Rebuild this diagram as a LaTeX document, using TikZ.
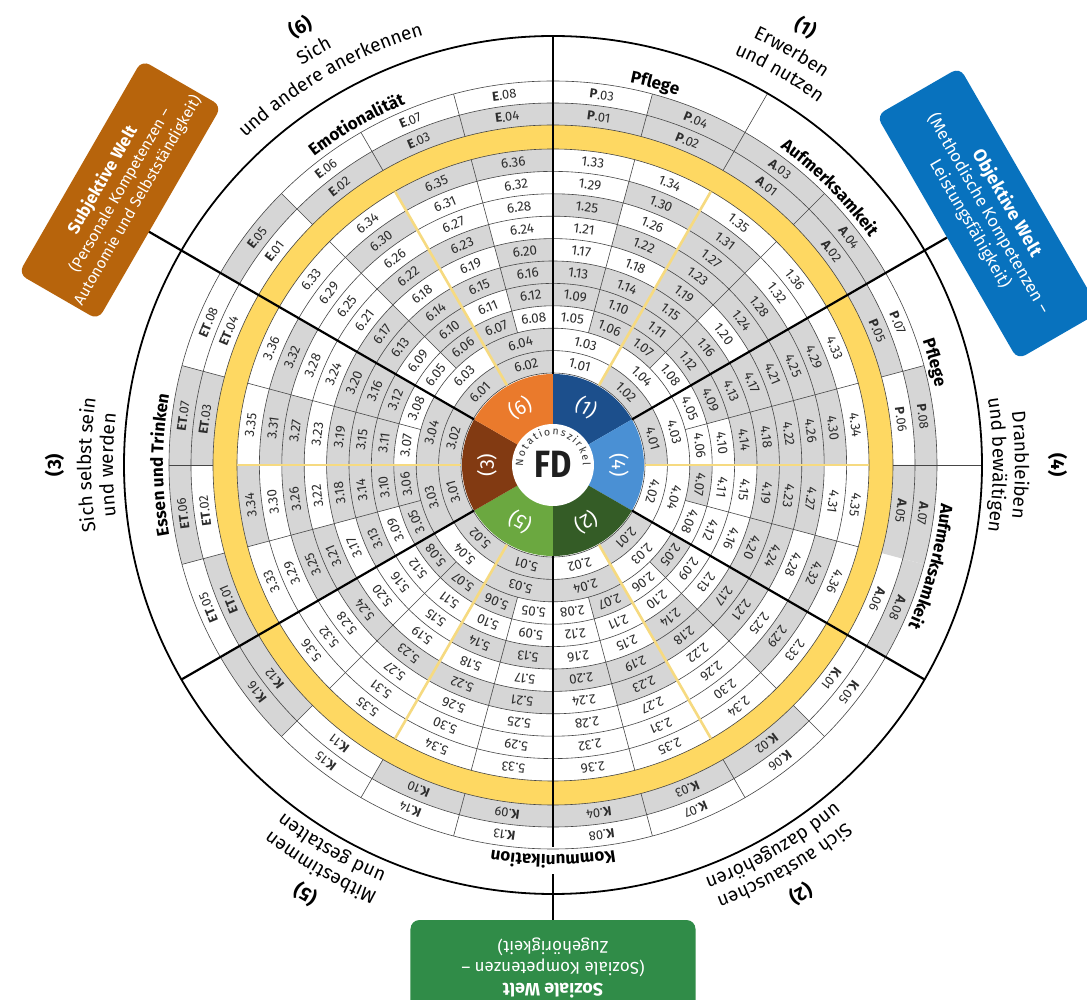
\documentclass[tikz,border=0pt]{standalone}
\usepackage{fontspec}
\setmainfont{Fira Sans}
\usetikzlibrary{decorations.text}
\definecolor{cellgray}{RGB}{214,214,214}
\definecolor{ringyellow}{RGB}{254,216,98}
\definecolor{lineyellow}{RGB}{246,218,128}
\definecolor{gridline}{RGB}{70,70,70}
\definecolor{numtext}{RGB}{45,45,45}
\definecolor{cOne}{RGB}{28,79,140}
\definecolor{cFour}{RGB}{74,144,212}
\definecolor{cTwo}{RGB}{52,92,38}
\definecolor{cFive}{RGB}{107,168,64}
\definecolor{cThree}{RGB}{130,58,18}
\definecolor{cSix}{RGB}{234,122,44}
\definecolor{subjcol}{RGB}{183,100,12}
\definecolor{objcol}{RGB}{8,114,190}
\definecolor{sozcol}{RGB}{48,140,72}
\def\rz{92}
\def\rw{22.4}
\newcommand\catfont{\bfseries\fontsize{17}{17}\selectfont}
\newcommand\outfont{\fontsize{19}{19}\selectfont}
\newcommand\outbold{\bfseries\fontsize{19}{19}\selectfont}
\newcommand\drawsector[3]{%
  \foreach \g [count=\i] in {#3}{%
    \pgfmathtruncatemacro\cR{\i<5 ? (\i<3 ? 1 : 2) : 3+floor((\i-5)/4)}%
    \pgfmathtruncatemacro\cC{\i<5 ? mod(\i-1,2) : mod(\i-5,4)}%
    \pgfmathsetmacro\cW{\i<5 ? 30 : 15}%
    \pgfmathsetmacro\aA{#2-\cC*\cW}%
    \pgfmathsetmacro\aB{\aA-\cW}%
    \pgfmathsetmacro\rA{\rz+\rw*(\cR-1)}%
    \pgfmathsetmacro\rB{\rA+\rw}%
    \pgfmathsetmacro\aM{(\aA+\aB)/2}%
    \pgfmathsetmacro\rM{(\rA+\rB)/2}%
    \ifnum\g=1
      \fill[cellgray] (\aA:\rA pt) arc[start angle=\aA,end angle=\aB,radius=\rA pt] -- (\aB:\rB pt) arc[start angle=\aB,end angle=\aA,radius=\rB pt] -- cycle;
    \fi
    \node[num,rotate=\aM-90] (n#1-\i) at (\aM:\rM pt) {#1.\ifnum\i<10 0\fi\i};
  }}
\newcommand\arctext[5]{%
  \path[decorate,decoration={text along path,text align=center,text={|#4|#5}}]
    (#1+#2:#3pt) arc[start angle=#1+#2,end angle=#1-#2,radius=#3pt];}
\begin{document}
\begin{tikzpicture}[x=1pt,y=1pt,
  num/.style={font=\fontsize{13.5}{13.5}\selectfont, text=numtext, inner sep=0pt},
  olab/.style={font=\fontsize{13}{13}\selectfont, text=numtext, inner sep=0pt},
  gridl/.style={draw=gridline, line width=0.6pt},
  yline/.style={draw=lineyellow, line width=2.6pt},
  sectorline/.style={draw=black, line width=2.2pt},
  wbox/.style={rounded corners=9pt, text=white, align=center, minimum height=96pt, inner sep=4pt},
  ringlab/.style={text=white, font=\fontsize{20}{20}\selectfont}
]
\useasboundingbox (-553,-535) rectangle (534,465);
\fill[white] (-553,-535) rectangle (534,465);

% inner cells
\drawsector{1}{90}{0,1,0,0,0,1,1,0,1,1,1,1,1,1,1,1,0,0,1,0,0,1,1,1,1,0,1,1,0,1,1,0,0,0,0,0}
\drawsector{4}{30}{1,0,0,0,0,0,1,0,1,0,0,0,1,1,0,0,1,1,1,1,1,1,1,1,1,1,1,0,1,1,0,1,0,0,0,0}
\drawsector{2}{-30}{1,0,0,1,1,0,1,0,0,0,0,0,0,1,0,0,1,1,1,1,1,0,1,0,0,0,0,0,1,0,0,0,0,0,0,0}
\drawsector{5}{-90}{1,1,1,0,0,1,1,1,0,0,0,0,1,1,0,0,0,0,0,0,1,1,1,1,0,0,0,0,0,0,0,0,0,0,0,0}
\drawsector{3}{210}{1,1,1,1,1,1,0,0,0,1,1,1,1,1,1,1,0,1,1,1,1,0,0,0,1,1,1,0,0,0,1,1,0,1,0,0}
\drawsector{6}{150}{1,1,0,1,0,1,1,0,0,1,0,1,1,1,1,1,1,0,0,1,0,1,1,0,0,0,0,0,0,1,0,0,0,0,1,1}

% outer cells
\foreach \a/\p/\ni/\no/\gi/\go in {82.5/P/01/03/1/0, 67.5/P/02/04/1/1, 52.5/A/01/03/1/1, 37.5/A/02/04/1/1, 22.5/P/05/07/1/0, 7.5/P/06/08/0/1, -7.5/A/05/07/1/1, -22.5/A/06/08/0/1, -37.5/K/01/05/0/0, -52.5/K/02/06/1/0, -67.5/K/03/07/1/0, -82.5/K/04/08/1/0, -97.5/K/09/13/1/0, -112.5/K/10/14/1/0, -127.5/K/11/15/0/0, -142.5/K/12/16/1/1, 202.5/ET/01/05/1/0, 187.5/ET/02/06/0/1, 172.5/ET/03/07/1/1, 157.5/ET/04/08/0/0, 142.5/E/01/05/0/1, 127.5/E/02/06/1/0, 112.5/E/03/07/1/0, 97.5/E/04/08/1/0}{
  \ifnum\gi=1 \fill[cellgray] (\a+7.5:340pt) arc[start angle=\a+7.5,end angle=\a-7.5,radius=340pt] -- (\a-7.5:362pt) arc[start angle=\a-7.5,end angle=\a+7.5,radius=362pt] -- cycle;\fi
  \ifnum\go=1 \fill[cellgray] (\a+7.5:362pt) arc[start angle=\a+7.5,end angle=\a-7.5,radius=362pt] -- (\a-7.5:384pt) arc[start angle=\a-7.5,end angle=\a+7.5,radius=384pt] -- cycle;\fi
  \node[olab,rotate=\a-90] (o\p\ni) at (\a:351pt) {\textbf{\p}.\ni};
  \node[olab,rotate=\a-90] (o\p\no) at (\a:373pt) {\textbf{\p}.\no};
}

% yellow ring
\fill[ringyellow, even odd rule] (0,0) circle[radius=340pt] (0,0) circle[radius=316pt];

% grid circles
\foreach \k in {0,...,10}{
  \pgfmathsetmacro\rr{\rz+\k*\rw}
  \draw[gridl] (0,0) circle[radius=\rr pt];
}
\foreach \r in {340,362,384}{\draw[gridl] (0,0) circle[radius=\r pt];}

% sector internal lines
\foreach \s in {90,30,-30,-90,-150,150}{
  \draw[gridl] (\s-15:136.8pt) -- (\s-15:316pt);
  \draw[gridl] (\s-45:136.8pt) -- (\s-45:316pt);
  \draw[yline] (\s-30:\rz pt) -- (\s-30:316pt);
}
% outer band lines
\foreach \a in {15,45,75,105,120,135,165,180,195,225,240,255,285,300,315}{
  \draw[gridl] (\a:340pt) -- (\a:384pt);
}
\foreach \a in {60,0}{\draw[gridl] (\a:340pt) -- (\a:429pt);}

% coloured ring
\foreach \s/\c/\n in {90/cOne/1,30/cFour/4,-30/cTwo/2,-90/cFive/5,-150/cThree/3,150/cSix/6}{
  \fill[\c] (0,0) -- (\s:91pt) arc[start angle=\s,end angle=\s-60,radius=91pt] -- cycle;
  \node[ringlab,rotate=\s-30-90] (ring\n) at (\s-30:66pt) {(\n)};
}
\node[circle, fill=white, minimum size=82pt, inner sep=0pt] (fd) at (0,0) {};
\node[font=\bfseries\fontsize{38}{38}\selectfont, text=black!88, xscale=0.86] (fdtext) at (0,1) {FD};
\path[decorate,decoration={text along path,text align={fit to path},text={|\fontsize{10.5}{10.5}\selectfont\color{black!80}|Notationszirkel}}] (182:30pt) arc[start angle=182,end angle=-2,radius=30pt];

% sector lines
\foreach \s in {90,30,-30,-150,150}{
  \draw[sectorline] (\s:91pt) -- (\s:429pt);
}
\draw[sectorline] (-90:91pt) -- (-90:382pt);
\draw[sectorline] (-90:409pt) -- (-90:429pt);
\draw[black, line width=1.8pt] (0,0) circle[radius=429pt];

% category labels
\arctext{75}{14}{390}{\catfont}{Pflege}
\arctext{45}{14}{390}{\catfont}{Aufmerksamkeit}
\arctext{15}{14}{390}{\catfont}{Pflege}
\arctext{-15}{14}{390}{\catfont}{Aufmerksamkeit}
\arctext{-90}{28}{390}{\catfont}{Kommunikation}
\arctext{180}{28}{390}{\catfont}{Essen und Trinken}
\arctext{120}{28}{390}{\catfont}{Emotionalität}

% outer labels
\arctext{60}{25}{498}{\outbold}{(1)}
\arctext{60}{25}{472}{\outfont}{Erwerben}
\arctext{60}{25}{449}{\outfont}{und nutzen}
\arctext{0}{25}{498}{\outbold}{(4)}
\arctext{0}{25}{462}{\outfont}{Dranbleiben}
\arctext{0}{25}{440}{\outfont}{und bewältigen}
\arctext{-60}{28}{489}{\outbold}{(2)}
\arctext{-60}{28}{462}{\outfont}{Sich austauschen}
\arctext{-60}{28}{440}{\outfont}{und dazugehören}
\arctext{-120}{28}{489}{\outbold}{(5)}
\arctext{-120}{28}{462}{\outfont}{Mitbestimmen}
\arctext{-120}{28}{440}{\outfont}{und gestalten}
\arctext{180}{25}{492}{\outbold}{(3)}
\arctext{180}{25}{462}{\outfont}{Sich selbst sein}
\arctext{180}{25}{440}{\outfont}{und werden}
\arctext{120}{28}{499}{\outbold}{(6)}
\arctext{120}{28}{472}{\outfont}{Sich}
\arctext{120}{28}{449}{\outfont}{und andere anerkennen}

% connectors to the Welt boxes
\coordinate (c30) at (30:429pt);
\coordinate (c150) at (150:429pt);
\coordinate (c270) at (-90:429pt);
\coordinate (subjin) at (150:470pt);
\draw[sectorline] (c150) -- (subjin);

% Welt boxes
\node[wbox, fill=objcol, rotate=-60, minimum width=282pt, font=\fontsize{17}{21}\selectfont] (obj) at (30:503pt) {{\bfseries\fontsize{18}{21}\selectfont Objektive Welt}\\(Methodische Kompetenzen –\\Leistungsfähigkeit)};
\node[wbox, fill=subjcol, rotate=60, minimum width=246pt, minimum height=92pt, font=\fontsize{15.5}{20}\selectfont] (subj) at (-433,275) {{\bfseries\fontsize{17}{20}\selectfont Subjektive Welt}\\(Personale Kompetenzen –\\Autonomie und Selbstständigkeit)};
\node[wbox, fill=sozcol, rotate=180, minimum width=285pt, font=\fontsize{17}{21}\selectfont] (soz) at (-90:503pt) {{\bfseries\fontsize{18}{21}\selectfont Soziale Welt}\\(Soziale Kompetenzen –\\Zugehörigkeit)};
\draw[sectorline] (c30) -- (obj.south);
\draw[sectorline] (c270) -- (soz.south);
\end{tikzpicture}
\end{document}
